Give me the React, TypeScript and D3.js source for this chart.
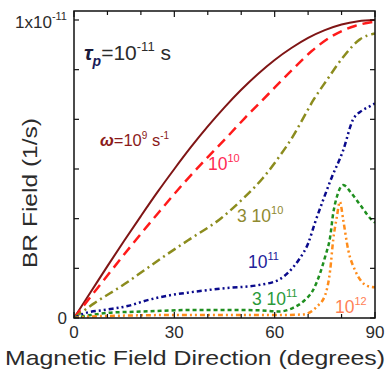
import * as d3 from 'd3';
import React from 'react';

// angle (degrees) and BR field in units of 1e-11 1/s
const w1e9Deg = [0, 5, 10, 15, 20, 25, 30, 35, 40, 45, 50, 55, 60, 65, 70, 75, 80, 85, 90];
const w1e9Val = [0, 0.087, 0.174, 0.259, 0.342, 0.423, 0.5, 0.574, 0.643, 0.707, 0.766, 0.819, 0.866, 0.906, 0.94, 0.966, 0.985, 0.996, 1.0];

const w1e10Deg = [0, 7, 18, 25, 33, 40, 46, 51, 58, 65, 71, 77, 84, 90];
const w1e10Val = [0, 0.1, 0.255, 0.35, 0.455, 0.54, 0.61, 0.67, 0.75, 0.83, 0.895, 0.945, 0.98, 0.995];

const w3e10Deg = [0, 6, 15, 21, 28, 34, 44, 50.5, 56.5, 61.6, 65.5, 68.5, 71.5, 75.7, 80.5, 85.5, 90];
const w3e10Val = [0, 0.049, 0.113, 0.16, 0.215, 0.26, 0.335, 0.4, 0.47, 0.545, 0.61, 0.67, 0.73, 0.8, 0.876, 0.935, 0.955];

const w1e11Deg = [0, 3, 9, 16, 22, 29, 34, 45, 55, 61.5, 65.5, 67.5, 70, 72, 74.5, 77, 80.4, 83.4, 86, 88.4, 90];
const w1e11Val = [0, 0.015, 0.027, 0.04, 0.06, 0.077, 0.085, 0.1, 0.11, 0.13, 0.17, 0.2, 0.25, 0.318, 0.396, 0.47, 0.56, 0.665, 0.695, 0.71, 0.72];

const w3e11Deg = [0, 5, 11, 18, 26, 34, 45, 55, 61.5, 65.5, 69, 71.5, 73.6, 75.1, 76.6, 77.5, 78.6, 80.5, 83, 86, 89, 90];
const w3e11Val = [0, 0.01, 0.018, 0.021, 0.024, 0.027, 0.027, 0.026, 0.022, 0.034, 0.06, 0.094, 0.151, 0.206, 0.273, 0.351, 0.407, 0.446, 0.418, 0.373, 0.329, 0.32];

const w1e12Deg = [0, 5, 15, 30, 50, 62, 68.5, 72.6, 75.1, 76.6, 77.5, 78.6, 79.5, 80.5, 82, 84, 86, 88.5, 90];
const w1e12Val = [0, 0.005, 0.008, 0.01, 0.01, 0.01, 0.012, 0.038, 0.077, 0.161, 0.262, 0.34, 0.39, 0.329, 0.228, 0.161, 0.122, 0.105, 0.103];

const xTicks = [0, 10, 20, 30, 40, 50, 60, 70, 80, 90];
const xTickLabels = ['0', '30', '60', '90'];
const yTicks = [0, 1 / 6, 2 / 6, 3 / 6, 4 / 6, 5 / 6, 1];

const series = [
  { deg: w1e9Deg, val: w1e9Val, color: '#7f1515', dash: null, width: 2 },
  { deg: w1e10Deg, val: w1e10Val, color: '#ff1a1a', dash: '10,6', width: 2.5 },
  { deg: w3e10Deg, val: w3e10Val, color: '#8c8c1e', dash: '9,4,2,4', width: 2.5 },
  { deg: w1e11Deg, val: w1e11Val, color: '#0a0a8c', dash: '5,3,2,3,2,3', width: 2.5 },
  { deg: w3e11Deg, val: w3e11Val, color: '#1f8f1f', dash: '4,3', width: 2.5 },
  { deg: w1e12Deg, val: w1e12Val, color: '#ff8c1a', dash: '5,3,2,3,2,3', width: 2.5 },
];

const font = 'Liberation Sans, Arial, sans-serif';

export default function App() {
  const left = 74, right = 375, top = 11, bottom = 318;

  const x = d3.scaleLinear().domain([0, 90]).range([left, right]);
  const y = d3.scaleLinear().domain([0, 1.0302]).range([bottom, top]);

  const line = d3.line<[number, number]>()
    .x(d => x(d[0]))
    .y(d => y(d[1]))
    .curve(d3.curveMonotoneX);

  return (
    <svg width={387} height={372} style={{ position: 'absolute', left: 0, top: 0, background: '#fff' }}
      fontFamily={font}>
      <defs>
        <clipPath id="plot">
          <rect x={left} y={top} width={right - left} height={bottom - top} />
        </clipPath>
      </defs>

      <g clipPath="url(#plot)">
        {series.map((s, i) => (
          <path key={i}
            d={line(s.deg.map((d, j) => [d, s.val[j]] as [number, number])) || ''}
            fill="none" stroke={s.color} strokeWidth={s.width}
            strokeDasharray={s.dash || undefined} />
        ))}
      </g>

      {/* frame */}
      <rect x={left} y={top} width={right - left} height={bottom - top} fill="none" stroke="#111" strokeWidth={1.5} />

      {/* ticks, inward */}
      {xTicks.map(t => (
        <g key={'x' + t} stroke="#111" strokeWidth={1.2}>
          <line x1={x(t)} x2={x(t)} y1={bottom} y2={bottom - (t % 30 === 0 ? 6 : 4)} />
          <line x1={x(t)} x2={x(t)} y1={top} y2={top + (t % 30 === 0 ? 6 : 4)} />
        </g>
      ))}
      {yTicks.map((t, i) => (
        <g key={'y' + i} stroke="#111" strokeWidth={1.2}>
          <line x1={left} x2={left + 5} y1={y(t)} y2={y(t)} />
          <line x1={right} x2={right - 5} y1={y(t)} y2={y(t)} />
        </g>
      ))}

      {/* tick labels */}
      {xTickLabels.map(l => (
        <text key={l} x={x(+l)} y={338} textAnchor="middle" fontSize={17} fill="#2b2b2b">{l}</text>
      ))}
      <text x={67} y={y(0) + 6} textAnchor="end" fontSize={17} fill="#2b2b2b">0</text>
      <text x={67} y={28} textAnchor="end" fontSize={17} fill="#2b2b2b">
        1x10<tspan fontSize={11} dy={-8}>-11</tspan>
      </text>

      {/* axis titles */}
      <text x={195} y={365} textAnchor="middle" fontSize={21} fill="#2b2b2b"
        textLength={380} lengthAdjust="spacingAndGlyphs">Magnetic Field Direction (degrees)</text>
      <text transform="translate(37,193) rotate(-90)" textAnchor="middle" fontSize={20} fill="#2b2b2b"
        textLength={150} lengthAdjust="spacingAndGlyphs">BR Field (1/s)</text>

      {/* tau label */}
      <text x={84} y={60} fontSize={21} fill="#2b2b2b">
        <tspan fontWeight="bold" fontStyle="italic" fill="#1a1a3a">τ</tspan>
        <tspan fontSize={14} fontWeight="bold" fontStyle="italic" fill="#1a1a5a" dy={6}>p</tspan>
        <tspan dy={-6}>=10</tspan>
        <tspan fontSize={13} dy={-9}>-11</tspan>
        <tspan dy={9}> s</tspan>
      </text>

      {/* curve labels */}
      <text x={100} y={146} fontSize={16.5} fill="#8b1a1a">
        <tspan fontWeight="bold" fontStyle="italic">ω</tspan>=10<tspan fontSize={10} dy={-7}>9</tspan>
        <tspan dy={7}> s</tspan><tspan fontSize={10} dy={-7}>-1</tspan>
      </text>
      <text x={208} y={170} fontSize={17.5} fill="#ff2a55">
        10<tspan fontSize={11} dy={-8}>10</tspan>
      </text>
      <text x={237} y={222} fontSize={17.5} fill="#8f8a30">
        3 10<tspan fontSize={11} dy={-8}>10</tspan>
      </text>
      <text x={248} y={268} fontSize={17.5} fill="#22229a">
        10<tspan fontSize={11} dy={-8}>11</tspan>
      </text>
      <text x={252} y={305} fontSize={17.5} fill="#2a9a3a">
        3 10<tspan fontSize={11} dy={-8}>11</tspan>
      </text>
      <text x={335} y={313} fontSize={17.5} fill="#ff7f55">
        10<tspan fontSize={11} dy={-8}>12</tspan>
      </text>
    </svg>
  );
}
